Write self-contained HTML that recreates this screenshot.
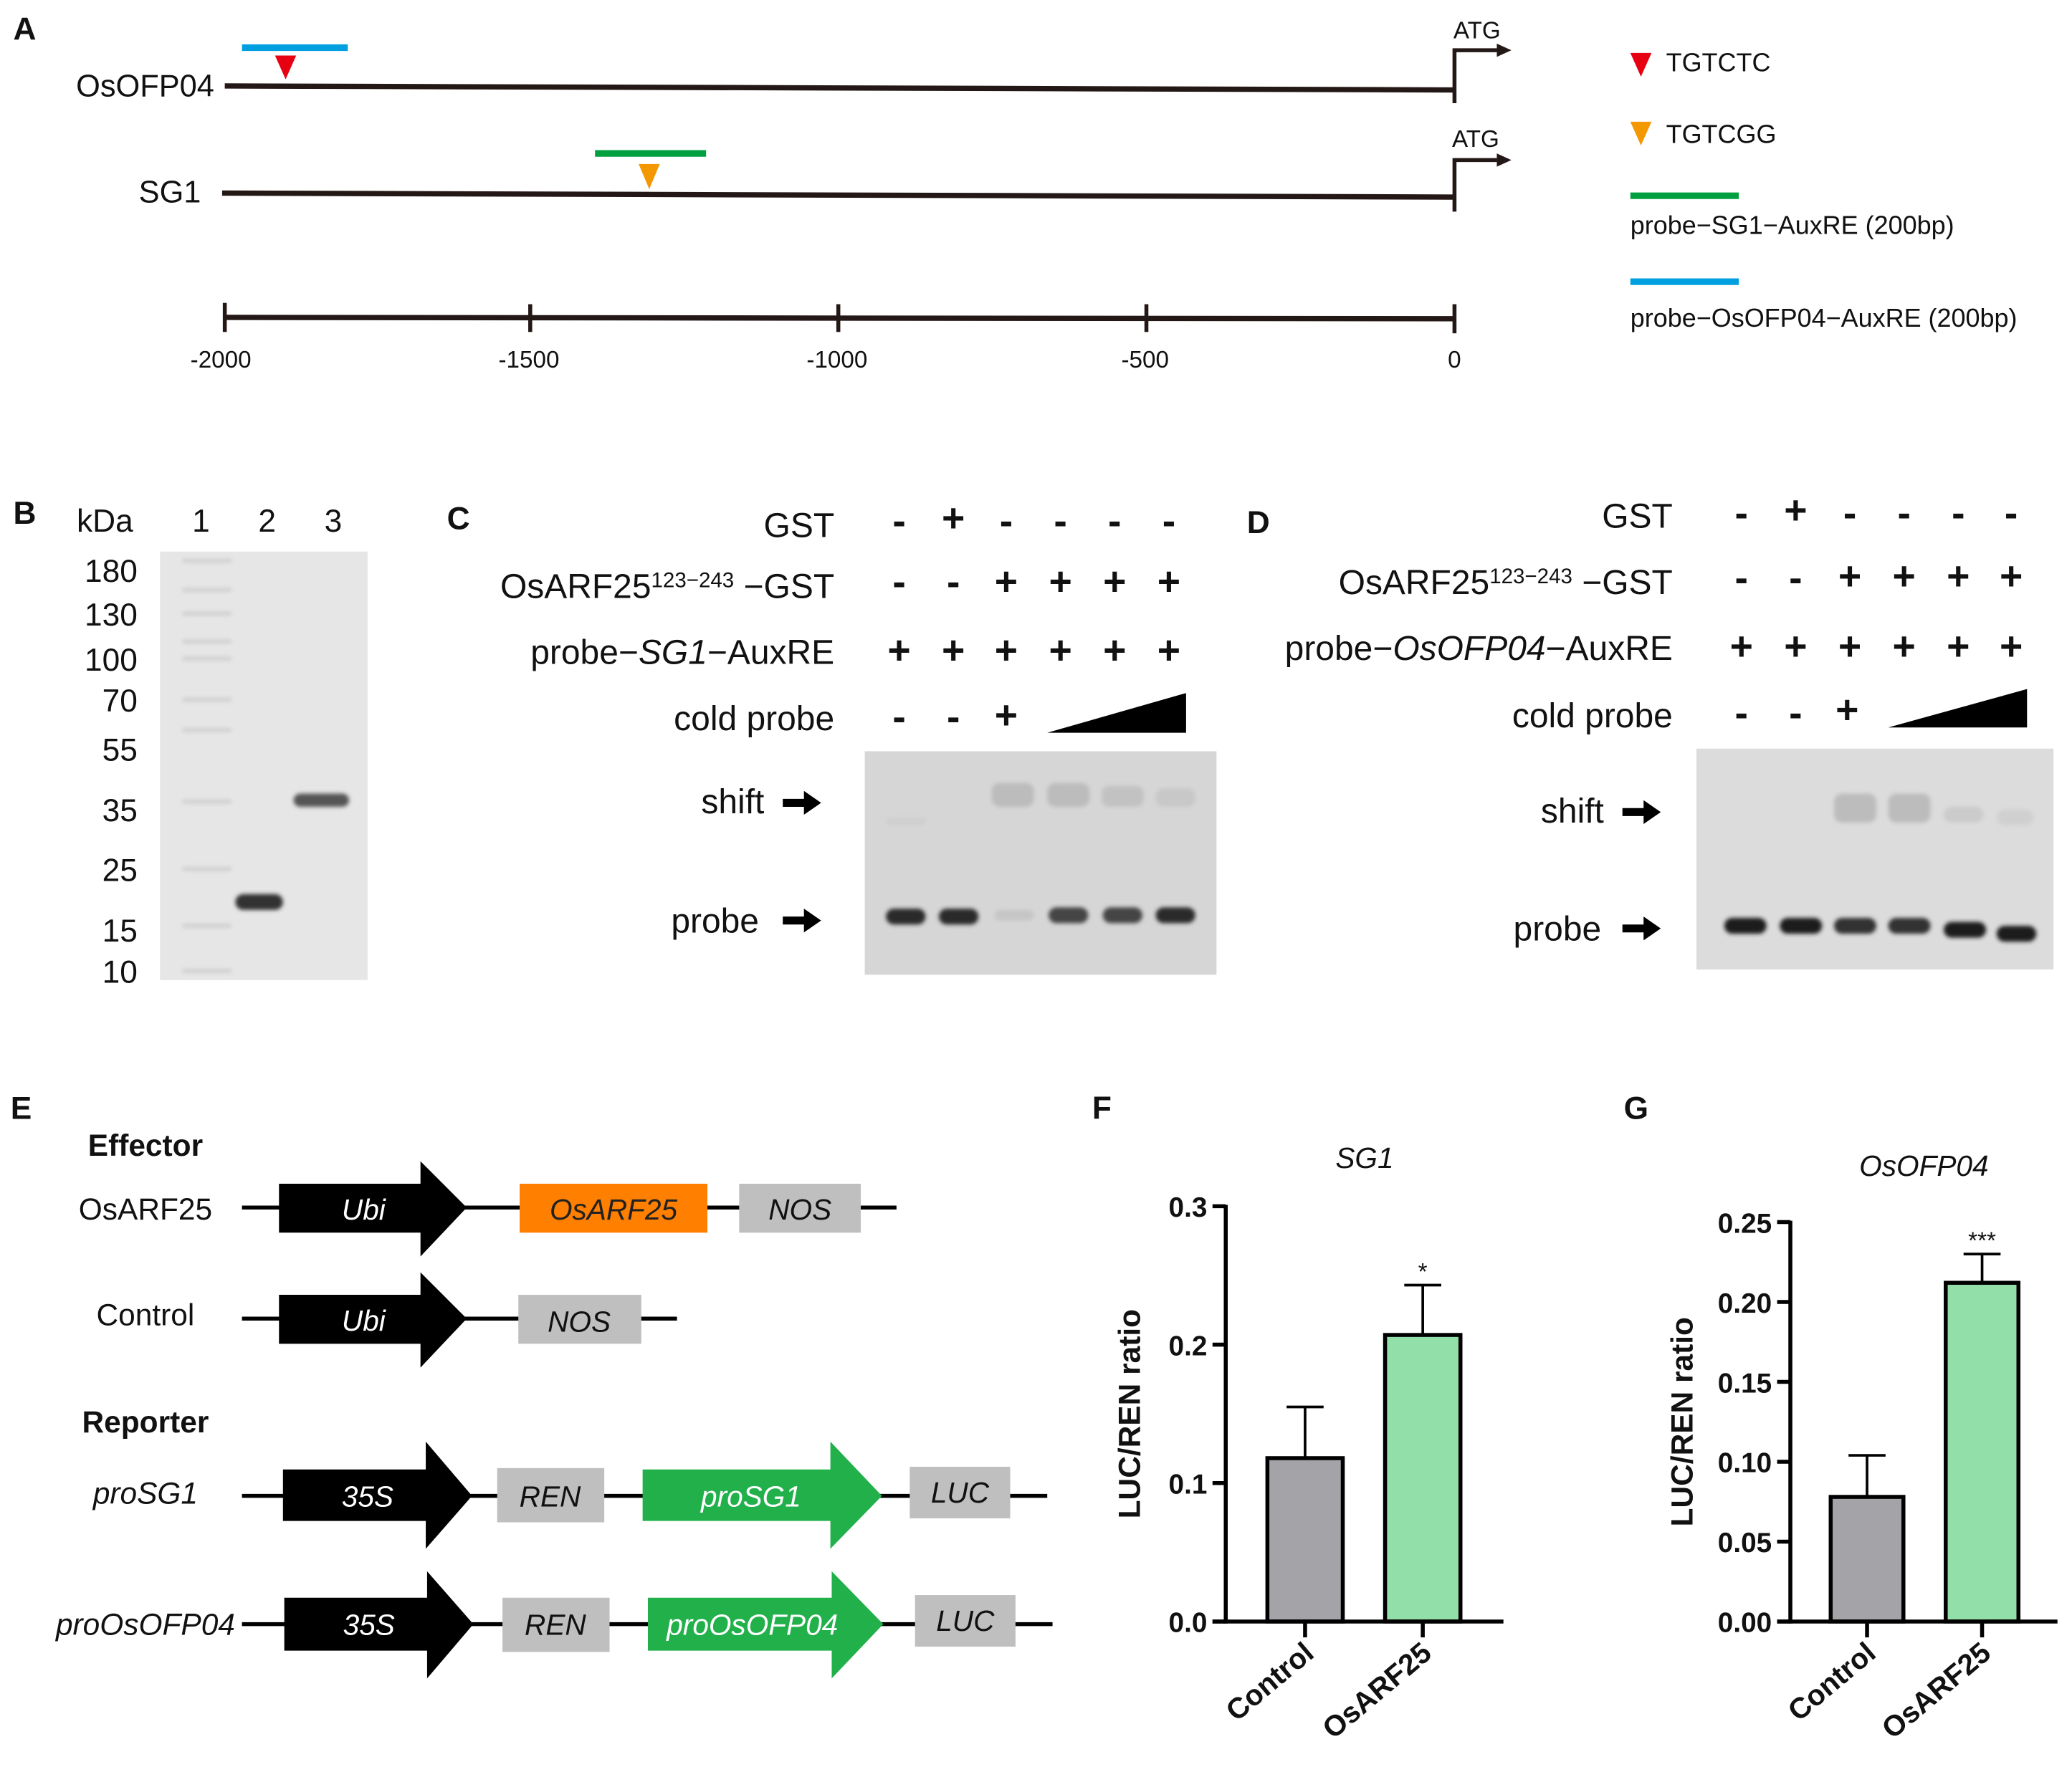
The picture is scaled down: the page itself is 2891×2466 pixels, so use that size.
<!DOCTYPE html>
<html><head><meta charset="utf-8"><style>
html,body{margin:0;padding:0;background:#fff}
svg{display:block}
text{font-family:"Liberation Sans",sans-serif;fill:#111}
</style></head><body>
<svg id="fig" width="2891" height="2466" viewBox="0 0 1567 1336" preserveAspectRatio="none" xmlns="http://www.w3.org/2000/svg">
<defs>
<filter id="blur" x="-20%" y="-50%" width="140%" height="200%"><feGaussianBlur stdDeviation="1.6"/></filter>
</defs>
<!-- Panel A -->
<g>
<text x="10" y="30" font-size="24" font-weight="bold">A</text>
<text x="162" y="73" font-size="23.5" text-anchor="end">OsOFP04</text>
<line x1="170" y1="65" x2="1100" y2="68" stroke="#231815" stroke-width="4"/>
<line x1="183" y1="36" x2="263" y2="36" stroke="#00a0e0" stroke-width="5"/>
<polygon points="208,42 224,42 216,60" fill="#e60012"/>
<path d="M1100,78 V38 H1132" fill="none" stroke="#231815" stroke-width="3"/>
<polygon points="1132,33 1143,38 1132,43" fill="#231815"/>
<text x="1117" y="29" font-size="18" text-anchor="middle">ATG</text>
<text x="152" y="153" font-size="23.5" text-anchor="end">SG1</text>
<line x1="168" y1="146" x2="1100" y2="149" stroke="#231815" stroke-width="4"/>
<line x1="450" y1="116" x2="534" y2="116" stroke="#00a040" stroke-width="5"/>
<polygon points="483,124 499,124 491,143" fill="#f39800"/>
<path d="M1100,160 V121 H1132" fill="none" stroke="#231815" stroke-width="3"/>
<polygon points="1132,116 1143,121 1132,126" fill="#231815"/>
<text x="1116" y="111" font-size="18" text-anchor="middle">ATG</text>
<g>
<line x1="170" y1="240" x2="1100" y2="241" stroke="#231815" stroke-width="4"/>
<g stroke="#231815" stroke-width="3"><line x1="170" y1="229" x2="170" y2="251"/><line x1="401" y1="230" x2="401" y2="251"/><line x1="634" y1="230" x2="634" y2="251"/><line x1="867" y1="230" x2="867" y2="251"/><line x1="1100" y1="230" x2="1100" y2="252"/></g>
<g font-size="18" text-anchor="middle"><text x="167" y="278">-2000</text><text x="400" y="278">-1500</text><text x="633" y="278">-1000</text><text x="866" y="278">-500</text><text x="1100" y="278">0</text></g>
</g>
<g>
<polygon points="1233,40 1249,40 1241,58" fill="#e60012"/><text x="1260" y="54" font-size="19.5">TGTCTC</text>
<polygon points="1233,92 1249,92 1241,110" fill="#f39800"/><text x="1260" y="108" font-size="19.5">TGTCGG</text>
<line x1="1233" y1="148" x2="1315" y2="148" stroke="#00a040" stroke-width="5"/><text x="1233" y="177" font-size="19.5">probe−SG1−AuxRE (200bp)</text>
<line x1="1233" y1="213" x2="1315" y2="213" stroke="#00a0e0" stroke-width="5"/><text x="1233" y="247" font-size="19.5">probe−OsOFP04−AuxRE (200bp)</text>
</g>
</g>
<!-- Panel B -->
<g>
<text x="10" y="396" font-size="24" font-weight="bold">B</text>
<text x="58" y="402" font-size="24">kDa</text>
<g font-size="24" text-anchor="middle"><text x="152" y="402">1</text><text x="202" y="402">2</text><text x="252" y="402">3</text></g>
<rect x="121" y="417" width="157" height="324" fill="#e6e6e6"/>
<g font-size="24" text-anchor="end">
<text x="104" y="440">180</text><text x="104" y="473">130</text><text x="104" y="507">100</text><text x="104" y="538">70</text><text x="104" y="575">55</text><text x="104" y="621">35</text><text x="104" y="666">25</text><text x="104" y="712">15</text><text x="104" y="743">10</text></g>
<g stroke="#cfcfcf" stroke-width="3" filter="url(#blur)">
<line x1="138" y1="424" x2="175" y2="424"/><line x1="138" y1="446" x2="175" y2="446"/><line x1="138" y1="464" x2="175" y2="464"/><line x1="138" y1="485" x2="175" y2="485"/><line x1="138" y1="498" x2="175" y2="498"/><line x1="138" y1="529" x2="175" y2="529"/><line x1="138" y1="552" x2="175" y2="552"/><line x1="138" y1="606" x2="175" y2="606"/><line x1="138" y1="657" x2="175" y2="657"/><line x1="138" y1="700" x2="175" y2="700"/><line x1="138" y1="734" x2="175" y2="734"/></g>
<rect x="178" y="676" width="36" height="12" rx="6" fill="#333" filter="url(#blur)"/>
<rect x="222" y="600" width="42" height="10" rx="5" fill="#555" filter="url(#blur)"/>
</g>
<!-- Panel C -->
<g>
<text x="338" y="400" font-size="24" font-weight="bold">C</text>
<g font-size="26" text-anchor="end">
<text x="631" y="406">GST</text>
<text x="631" y="452">OsARF25<tspan font-size="16" dy="-8">123−243</tspan><tspan dy="8"> −GST</tspan></text>
<text x="631" y="502">probe−<tspan font-style="italic">SG1</tspan>−AuxRE</text>
<text x="631" y="552">cold probe</text></g>
<g font-size="30" text-anchor="middle" font-weight="bold">
<text x="680" y="404">-</text><text x="721" y="402">+</text><text x="761" y="404">-</text><text x="802" y="404">-</text><text x="843" y="404">-</text><text x="884" y="404">-</text>
<text x="680" y="450">-</text><text x="721" y="450">-</text><text x="761" y="450">+</text><text x="802" y="450">+</text><text x="843" y="450">+</text><text x="884" y="450">+</text>
<text x="680" y="502">+</text><text x="721" y="502">+</text><text x="761" y="502">+</text><text x="802" y="502">+</text><text x="843" y="502">+</text><text x="884" y="502">+</text>
<text x="680" y="552">-</text><text x="721" y="552">-</text><text x="761" y="551">+</text></g>
<polygon points="792,554 897,524 897,554" fill="#000"/>
<rect x="654" y="568" width="266" height="169" fill="#d6d6d6"/>
<text x="578" y="615" font-size="26" text-anchor="end">shift</text>
<polygon points="592,604 608,604 608,598 621,607 608,616 608,610 592,610" fill="#000"/>
<text x="574" y="705" font-size="26" text-anchor="end">probe</text>
<polygon points="592,693 608,693 608,687 621,696 608,705 608,699 592,699" fill="#000"/>
<g fill="#2a2a2a" filter="url(#blur)"><rect x="670" y="687" width="30" height="12" rx="6"/><rect x="710" y="687" width="30" height="12" rx="6"/><rect x="793" y="686" width="30" height="12" rx="6" fill="#444"/><rect x="834" y="686" width="30" height="12" rx="6" fill="#444"/><rect x="874" y="686" width="30" height="12" rx="6"/></g>
<rect x="752" y="688" width="30" height="8" rx="4" fill="#c6c6c6" filter="url(#blur)"/>
<g fill="#bcbcbc" filter="url(#blur)"><rect x="750" y="592" width="32" height="18" rx="6"/><rect x="792" y="592" width="32" height="18" rx="6"/><rect x="833" y="594" width="32" height="16" rx="6" fill="#c2c2c2"/><rect x="874" y="596" width="30" height="14" rx="6" fill="#c8c8c8"/></g>
<rect x="670" y="618" width="30" height="6" rx="3" fill="#cfcfcf" filter="url(#blur)"/>
</g>
<!-- Panel D -->
<g>
<text x="943" y="403" font-size="24" font-weight="bold">D</text>
<g font-size="26" text-anchor="end">
<text x="1265" y="399">GST</text>
<text x="1265" y="449">OsARF25<tspan font-size="16" dy="-8">123−243</tspan><tspan dy="8"> −GST</tspan></text>
<text x="1265" y="499">probe−<tspan font-style="italic">OsOFP04</tspan>−AuxRE</text>
<text x="1265" y="550">cold probe</text></g>
<g font-size="30" text-anchor="middle" font-weight="bold">
<text x="1317" y="398">-</text><text x="1358" y="396">+</text><text x="1399" y="398">-</text><text x="1440" y="398">-</text><text x="1481" y="398">-</text><text x="1521" y="398">-</text>
<text x="1317" y="447">-</text><text x="1358" y="447">-</text><text x="1399" y="446">+</text><text x="1440" y="446">+</text><text x="1481" y="446">+</text><text x="1521" y="446">+</text>
<text x="1317" y="499">+</text><text x="1358" y="499">+</text><text x="1399" y="499">+</text><text x="1440" y="499">+</text><text x="1481" y="499">+</text><text x="1521" y="499">+</text>
<text x="1317" y="549">-</text><text x="1358" y="549">-</text><text x="1397" y="547">+</text></g>
<polygon points="1428,550 1533,521 1533,550" fill="#000"/>
<rect x="1283" y="566" width="270" height="167" fill="#dcdcdc"/>
<text x="1213" y="622" font-size="26" text-anchor="end">shift</text>
<polygon points="1227,611 1243,611 1243,605 1256,614 1243,623 1243,617 1227,617" fill="#000"/>
<text x="1211" y="711" font-size="26" text-anchor="end">probe</text>
<polygon points="1227,699 1243,699 1243,693 1256,702 1243,711 1243,705 1227,705" fill="#000"/>
<g fill="#1a1a1a" filter="url(#blur)"><rect x="1304" y="694" width="32" height="12" rx="6"/><rect x="1346" y="694" width="32" height="12" rx="6"/><rect x="1387" y="694" width="32" height="12" rx="6" fill="#333"/><rect x="1428" y="694" width="32" height="12" rx="6" fill="#333"/><rect x="1470" y="697" width="32" height="12" rx="6"/><rect x="1510" y="700" width="30" height="12" rx="6"/></g>
<g fill="#bcbcbc" filter="url(#blur)"><rect x="1387" y="600" width="32" height="22" rx="6"/><rect x="1428" y="600" width="32" height="22" rx="6"/><rect x="1470" y="610" width="30" height="12" rx="6" fill="#cbcbcb"/><rect x="1510" y="612" width="28" height="12" rx="6" fill="#d0d0d0"/></g>
</g>
<!-- Panel E -->
<g>
<text x="8" y="846" font-size="24" font-weight="bold">E</text>
<text x="110" y="874" font-size="23" font-weight="bold" text-anchor="middle">Effector</text>
<text x="110" y="922" font-size="23" text-anchor="middle">OsARF25</text>
<line x1="183" y1="913" x2="678" y2="913" stroke="#000" stroke-width="3"/>
<polygon points="211,895 318,895 318,878 353,913 318,950 318,932 211,932" fill="#000"/>
<text x="275" y="922" font-size="22" style="fill:#fff" font-style="italic" text-anchor="middle">Ubi</text>
<rect x="393" y="895" width="142" height="37" fill="#ff7f00"/>
<text x="464" y="922" font-size="22" font-style="italic" text-anchor="middle" style="fill:#222">OsARF25</text>
<rect x="559" y="895" width="92" height="37" fill="#bfbfbf"/>
<text x="605" y="922" font-size="22" font-style="italic" text-anchor="middle">NOS</text>
<text x="110" y="1002" font-size="23" text-anchor="middle">Control</text>
<line x1="183" y1="997" x2="512" y2="997" stroke="#000" stroke-width="3"/>
<polygon points="211,979 318,979 318,962 353,997 318,1034 318,1016 211,1016" fill="#000"/>
<text x="275" y="1006" font-size="22" style="fill:#fff" font-style="italic" text-anchor="middle">Ubi</text>
<rect x="392" y="979" width="93" height="37" fill="#bfbfbf"/>
<text x="438" y="1007" font-size="22" font-style="italic" text-anchor="middle">NOS</text>
<text x="110" y="1083" font-size="23" font-weight="bold" text-anchor="middle">Reporter</text>
<text x="110" y="1137" font-size="23" font-style="italic" text-anchor="middle">proSG1</text>
<line x1="183" y1="1131" x2="792" y2="1131" stroke="#000" stroke-width="3"/>
<polygon points="214,1111 322,1111 322,1090 357,1131 322,1171 322,1150 214,1150" fill="#000"/>
<text x="278" y="1139" font-size="22" style="fill:#fff" font-style="italic" text-anchor="middle">35S</text>
<rect x="376" y="1110" width="81" height="41" fill="#bfbfbf"/>
<text x="416" y="1139" font-size="22" font-style="italic" text-anchor="middle">REN</text>
<polygon points="486,1111 628,1111 628,1090 667,1131 628,1171 628,1150 486,1150" fill="#22b04b"/>
<text x="568" y="1139" font-size="22" style="fill:#fff" font-style="italic" text-anchor="middle">proSG1</text>
<rect x="688" y="1109" width="76" height="39" fill="#bfbfbf"/>
<text x="726" y="1136" font-size="22" font-style="italic" text-anchor="middle">LUC</text>
<text x="110" y="1236" font-size="23" font-style="italic" text-anchor="middle">proOsOFP04</text>
<line x1="183" y1="1228" x2="796" y2="1228" stroke="#000" stroke-width="3"/>
<polygon points="215,1208 323,1208 323,1188 358,1228 323,1269 323,1248 215,1248" fill="#000"/>
<text x="279" y="1236" font-size="22" style="fill:#fff" font-style="italic" text-anchor="middle">35S</text>
<rect x="380" y="1208" width="81" height="41" fill="#bfbfbf"/>
<text x="420" y="1236" font-size="22" font-style="italic" text-anchor="middle">REN</text>
<polygon points="490,1208 629,1208 629,1188 668,1228 629,1269 629,1248 490,1248" fill="#22b04b"/>
<text x="569" y="1236" font-size="22" style="fill:#fff" font-style="italic" text-anchor="middle">proOsOFP04</text>
<rect x="692" y="1206" width="76" height="39" fill="#bfbfbf"/>
<text x="730" y="1233" font-size="22" font-style="italic" text-anchor="middle">LUC</text>
</g>
<text x="826" y="846" font-size="24" font-weight="bold">F</text>
<text x="1228" y="846" font-size="24" font-weight="bold">G</text>
<g id="chartF"></g>
<g id="chartG"></g>
</svg>
<script>
const categories = ["Control", "OsARF25"];
const fValues = [0.118, 0.207];
const fErrors = [0.037, 0.036];
const fTicks = [0, 0.1, 0.2, 0.3];
const fTickLabels = ["0.0", "0.1", "0.2", "0.3"];
const fSig = ["", "*"];
const gValues = [0.078, 0.212];
const gErrors = [0.026, 0.018];
const gTicks = [0, 0.05, 0.10, 0.15, 0.20, 0.25];
const gTickLabels = ["0.00", "0.05", "0.10", "0.15", "0.20", "0.25"];
const gSig = ["", "***"];
const barColors = ["#a3a3a8", "#93dfa9"];
const NS = "http://www.w3.org/2000/svg";
function mk(parent, tag, attrs, txt) {
  const e = document.createElementNS(NS, tag);
  for (const k in attrs) e.setAttribute(k, attrs[k]);
  if (txt !== undefined) e.textContent = txt;
  parent.appendChild(e);
  return e;
}
function drawChart(g, cfg, values, errors, ticks, tickLabels, sig) {
  const y = v => cfg.y0 - (v - 0) / cfg.max * (cfg.y0 - cfg.yTop);
  const t = mk(g, "text", {x: cfg.titleX, y: cfg.titleY, "font-size": 22, "font-style": "italic", "text-anchor": "middle"}, cfg.title);
  
  
  const yl = mk(g, "text", {transform: `translate(${cfg.ylX},${(cfg.y0 + cfg.yTop) / 2}) rotate(-90)`, "font-size": 23, "font-weight": "bold", "text-anchor": "middle"}, "LUC/REN ratio");
  
  
  ticks.forEach((v, i) => {
    mk(g, "line", {x1: cfg.x0 - 10, x2: cfg.x0, y1: y(v), y2: y(v), stroke: "#000", "stroke-width": 3});
    const tl = mk(g, "text", {x: cfg.x0 - 14, y: y(v) + 8, "font-size": 21, "font-weight": "bold", "text-anchor": "end"}, tickLabels[i]);
    
    
  });
  mk(g, "line", {x1: cfg.x0, x2: cfg.x0, y1: cfg.yTop - 1, y2: cfg.y0 + 1.5, stroke: "#000", "stroke-width": 3});
  values.forEach((v, i) => {
    const cx = cfg.cx[i];
    const ey = y(v + errors[i]);
    mk(g, "line", {x1: cx, x2: cx, y1: ey, y2: y(v), stroke: "#000", "stroke-width": 2});
    mk(g, "line", {x1: cx - 14, x2: cx + 14, y1: ey, y2: ey, stroke: "#000", "stroke-width": 2});
    const b = mk(g, "rect", {x: cx - cfg.bw / 2, y: y(v), width: cfg.bw, height: cfg.y0 - y(v), fill: barColors[i], stroke: "#000", "stroke-width": 3});
    
    
    if (sig[i]) mk(g, "text", {x: cx, y: ey - 4, "font-size": 18, "text-anchor": "middle"}, sig[i]);
    mk(g, "line", {x1: cx, x2: cx, y1: cfg.y0, y2: cfg.y0 + 12, stroke: "#000", "stroke-width": 3});
    const xl = mk(g, "text", {transform: `translate(${cx + 8},${cfg.y0 + 26}) rotate(-40)`, "font-size": 22, "font-weight": "bold", "text-anchor": "end"}, categories[i]);
    
    
  });
  mk(g, "line", {x1: cfg.x0 - 10, x2: cfg.xEnd, y1: cfg.y0, y2: cfg.y0, stroke: "#000", "stroke-width": 3});
}
drawChart(document.getElementById("chartF"), {x0: 927, xEnd: 1137, y0: 1226, yTop: 912, max: 0.3, cx: [987, 1076], bw: 57, title: "SG1", titleX: 1032, titleY: 883, ylX: 862}, fValues, fErrors, fTicks, fTickLabels, fSig);
drawChart(document.getElementById("chartG"), {x0: 1354, xEnd: 1556, y0: 1226, yTop: 924, max: 0.25, cx: [1412, 1499], bw: 55, title: "OsOFP04", titleX: 1455, titleY: 889, ylX: 1280}, gValues, gErrors, gTicks, gTickLabels, gSig);
</script>
</body></html>
